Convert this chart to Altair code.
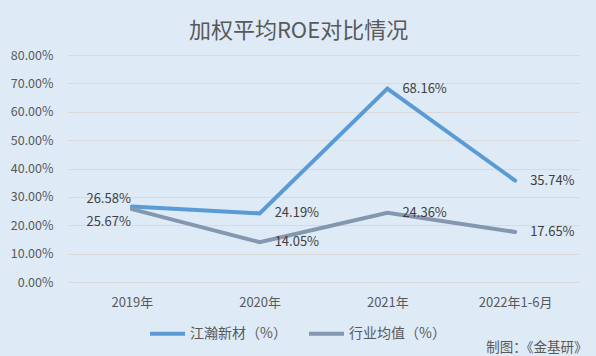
import altair as alt
import pandas as pd

years = ["2019年", "2020年", "2021年", "2022年1-6月"]
series_names = ["江瀚新材（%）", "行业均值（%）"]
jianghan = [0.2658, 0.2419, 0.6816, 0.3574]
industry = [0.2567, 0.1405, 0.2436, 0.1765]
y_ticks = [0, 0.1, 0.2, 0.3, 0.4, 0.5, 0.6, 0.7, 0.8]
title_text = "加权平均ROE对比情况"
footer_text = "制图：《金基研》"
colors = ["#5B9BD5", "#8497B0"]

rows = []
for i, y in enumerate(years):
    rows.append({"year": y, "series": series_names[0], "value": jianghan[i]})
    rows.append({"year": y, "series": series_names[1], "value": industry[i]})
df = pd.DataFrame(rows)

FONT = "Noto Sans CJK SC"

x_enc = alt.X(
    "year:N",
    sort=years,
    scale=alt.Scale(type="point", padding=0.5),
    axis=alt.Axis(
        title=footer_text,
        titleX=519,
        titleY=65,
        titleAlign="right",
        titleBaseline="middle",
        titleFontSize=13.5,
        titleFontWeight="normal",
        titleColor="#595959",
        titleFont=FONT,
        labelAngle=0,
        labelFontSize=13,
        labelColor="#595959",
        labelFont=FONT,
        labelPadding=14,
        ticks=False,
        domain=False,
        grid=False,
    ),
)
y_enc = alt.Y(
    "value:Q",
    scale=alt.Scale(domain=[0, 0.8], nice=False),
    axis=alt.Axis(
        title=None,
        values=y_ticks,
        tickCount=9,
        labelOverlap=False,
        format=".2%",
        labelFontSize=12.5,
        labelColor="#595959",
        labelFont=FONT,
        labelPadding=15,
        ticks=False,
        domain=False,
        grid=True,
        gridColor="#D9D9D9",
        gridWidth=1,
    ),
)

base = alt.Chart(df)

lines = base.mark_line(strokeWidth=4, strokeCap="round").encode(
    x=x_enc,
    y=y_enc,
    color=alt.Color(
        "series:N",
        sort=series_names,
        scale=alt.Scale(domain=series_names, range=colors),
        legend=alt.Legend(
            title=None,
            orient="none",
            legendX=80,
            legendY=259,
            direction="horizontal",
            symbolType="stroke",
            symbolSize=1225,
            symbolStrokeWidth=4,
            labelFontSize=14,
            labelColor="#595959",
            labelFont=FONT,
            labelOffset=3,
            columnPadding=14,
            labelLimit=200,
        ),
    ),
)

text_style = dict(fontSize=13, color="#404040", font=FONT, baseline="middle")

labels_right = base.mark_text(align="left", dx=15, **text_style).encode(
    x=alt.X("year:N", sort=years), y="value:Q", text=alt.Text("value:Q", format=".2%")
).transform_filter(alt.datum.year != years[0])

labels_first_a = base.mark_text(align="right", dx=-1, dy=-8, **text_style).encode(
    x=alt.X("year:N", sort=years), y="value:Q", text=alt.Text("value:Q", format=".2%")
).transform_filter((alt.datum.year == years[0]) & (alt.datum.series == series_names[0]))

labels_first_b = base.mark_text(align="right", dx=-1, dy=13, **text_style).encode(
    x=alt.X("year:N", sort=years), y="value:Q", text=alt.Text("value:Q", format=".2%")
).transform_filter((alt.datum.year == years[0]) & (alt.datum.series == series_names[1]))

chart = (
    alt.layer(lines, labels_right, labels_first_a, labels_first_b)
    .properties(
        width=511,
        height=227,
        title=alt.TitleParams(
            title_text,
            fontSize=22,
            font=FONT,
            fontWeight="normal",
            color="#595959",
            anchor="middle",
            dx=-25,
            offset=6,
        ),
        autosize=alt.AutoSizeParams(type="none"),
        padding={"left": 68, "top": 55, "right": 17, "bottom": 74},
    )
    .configure(background="#DEEBF7")
    .configure_view(stroke=None)
)

chart.save("out.html", embed_options={"renderer": "svg", "actions": False})
